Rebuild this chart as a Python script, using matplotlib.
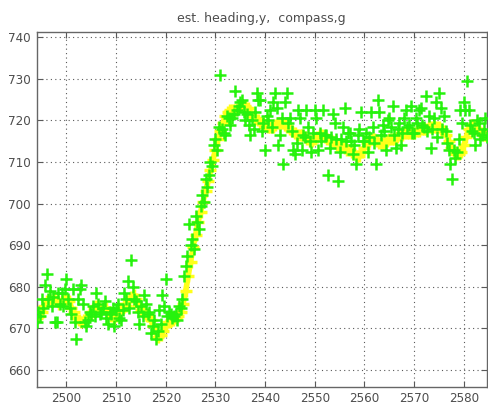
import numpy as np
import matplotlib
matplotlib.use("Agg")
import matplotlib.pyplot as plt

title = "est. heading,y,  compass,g"
x_ticks = [2500, 2510, 2520, 2530, 2540, 2550, 2560, 2570, 2580]
y_ticks = [660, 670, 680, 690, 700, 710, 720, 730, 740]

# estimated heading (yellow), sampled every 0.5 starting at 2494
t0_est = 2494.0
est_heading = [
    672.5, 673, 674, 675.5, 676.5, 677, 676.5, 677, 676.5, 676,
    676.5, 677, 677, 676.5, 675, 674, 672.5, 672, 671.5, 672,
    672.5, 673, 674, 675, 675.5, 675, 674.5, 675, 675, 674,
    673, 672.5, 673, 674, 675, 675.5, 675.5, 676.5, 677.5, 678,
    677, 675.5, 674.5, 674, 673.5, 673, 672, 670.5, 669, 668,
    668.5, 669.5, 670.5, 671.5, 672, 672, 672.5, 673, 674, 676,
    679, 682.5, 686, 689.5, 692.5, 695.5, 698, 700.5, 703, 705.5,
    708, 710.5, 713, 715.5, 717.5, 719.5, 721, 722, 722.5, 722.5,
    722.5, 723, 723.5, 723.5, 723.5, 723, 722, 721, 720.5, 720,
    719.5, 719.5, 719, 718.5, 718.5, 718.5, 719, 719.5, 719.5, 719.5,
    719, 718.5, 718, 717.5, 717, 716.5, 716.5, 716.5, 716, 715.5,
    715, 715, 715.5, 716, 716.5, 716.5, 716, 715.5, 715, 715,
    714.5, 714, 714, 714, 713.5, 713, 713, 712.5, 712, 711.5,
    711.5, 712.5, 713.5, 714.5, 715, 715.5, 715.5, 715, 714.5, 714.5,
    714.5, 715, 715.5, 715.5, 715.5, 716, 716.5, 716.5, 717, 717,
    717, 717, 717, 717.5, 717.5, 718, 718, 718, 718.5, 718.5,
    718.5, 718.5, 718.5, 718, 717.5, 716.5, 715, 713.5, 712.5, 712,
    712, 712.5, 714, 716, 718, 719, 719, 718, 717.5, 717,
    716.5, 716.5,
]

# compass readings (green), sampled every 1/3 starting at 2494
t0_comp = 2494.0
compass = [
    671.5, 674, 673, 677, 675, 680.5, 683, 677, 679, 675.5,
    677.5, 671.5, 671.5, 678.5, 676, 678.5, 675.5, 679.5, 682, 677,
    675, 673.5, 679.5, 671.5, 667.5, 677, 679.5, 680.5, 676, 671.5,
    670.5, 672, 674, 673.5, 675.5, 673, 678.5, 676, 673.5, 674,
    675, 676.5, 672.5, 671, 674, 673.5, 675, 670.5, 674.5, 676,
    672.5, 672, 674.5, 678.5, 677, 681.5, 675, 686.5, 680, 677,
    676.5, 674, 671, 675.5, 673, 678, 676, 673.5, 674, 669,
    670.5, 672, 667.5, 669.5, 674.5, 671, 678, 675.5, 682, 673,
    674, 673.5, 672.5, 673, 673.5, 672, 675.5, 675, 677, 682.5,
    685, 687.5, 695, 690, 691.5, 689, 697, 695.5, 694, 699.5,
    702, 700.5, 706, 704, 707, 710, 709, 714, 715.5, 713,
    718.5, 731, 718, 717, 716.5, 721, 720.5, 719, 720.5, 721.5,
    727, 722.5, 723.5, 724.5, 725, 722, 720, 721.5, 719, 716.5,
    720, 718, 722, 726.5, 725, 725, 717.5, 719.5, 713, 721,
    720, 722.5, 718.5, 724.5, 726.5, 723, 714, 716.5, 720.5, 709.5,
    724.5, 726.5, 719.5, 720.5, 717.5, 713, 712, 714.5, 722.5, 720.5,
    713, 716.5, 716, 722.5, 718.5, 715, 712.5, 717, 722.5, 720.5,
    713, 717, 715, 722.5, 716.5, 716.5, 707, 713.5, 716, 721.5,
    719.5, 715.5, 705.5, 712.5, 715.5, 718.5, 723, 715, 717, 717,
    715, 712, 714, 709.5, 716.5, 718, 722, 715, 715, 717,
    712.5, 716, 722, 718.5, 714.5, 709.5, 725, 722, 716.5, 719,
    717.5, 713, 720, 720.5, 718.5, 723.5, 716.5, 713.5, 718, 719.5,
    714, 717, 720.5, 722.5, 718.5, 719, 723.5, 717, 717, 720.5,
    719.5, 722.5, 723, 719, 718.5, 726, 717.5, 721, 713.5, 718,
    720.5, 724.5, 716, 726.5, 723, 718, 721, 717.5, 714.5, 713,
    709.5, 706, 713, 711, 712.5, 715.5, 722.5, 719.5, 724.5, 722.5,
    729.5, 722.5, 719, 717.5, 717, 714, 720, 719.5, 715.5, 716.5,
    718, 720.5, 716,
]

t_est = t0_est + 0.5 * np.arange(len(est_heading))
t_comp = t0_comp + np.arange(len(compass)) / 3.0

fig = plt.figure(figsize=(4.89, 4.09), dpi=100)
ax = fig.add_axes([0.075, 0.0545, 0.92, 0.8675])

ax.plot(t_est, est_heading, color=(1.0, 1.0, 0.1), lw=4, zorder=2,
        marker='+', ms=8, mew=2.5)
ax.plot(t_comp, compass, ls='none', marker='+', color=(0.15, 0.95, 0.05),
        ms=8, mew=1.8, zorder=3)

ax.set_xlim(2494, 2584.6)
ax.set_ylim(656, 741.3)
ax.set_xticks(x_ticks)
ax.set_yticks(y_ticks)
ax.grid(True, color='0.35', ls=(0, (1, 3)), lw=0.8)
ax.tick_params(direction='in', top=True, right=True, length=4,
               colors='0.35', labelsize=9.5, labelcolor='0.3', pad=4)
for lab in ax.get_xticklabels() + ax.get_yticklabels():
    lab.set_fontstretch('condensed')
for s in ax.spines.values():
    s.set_color('0.4')
    s.set_linewidth(1.0)
ax.set_title(title, fontsize=9, color='0.3', pad=7)

fig.savefig("out.png", dpi=100)
